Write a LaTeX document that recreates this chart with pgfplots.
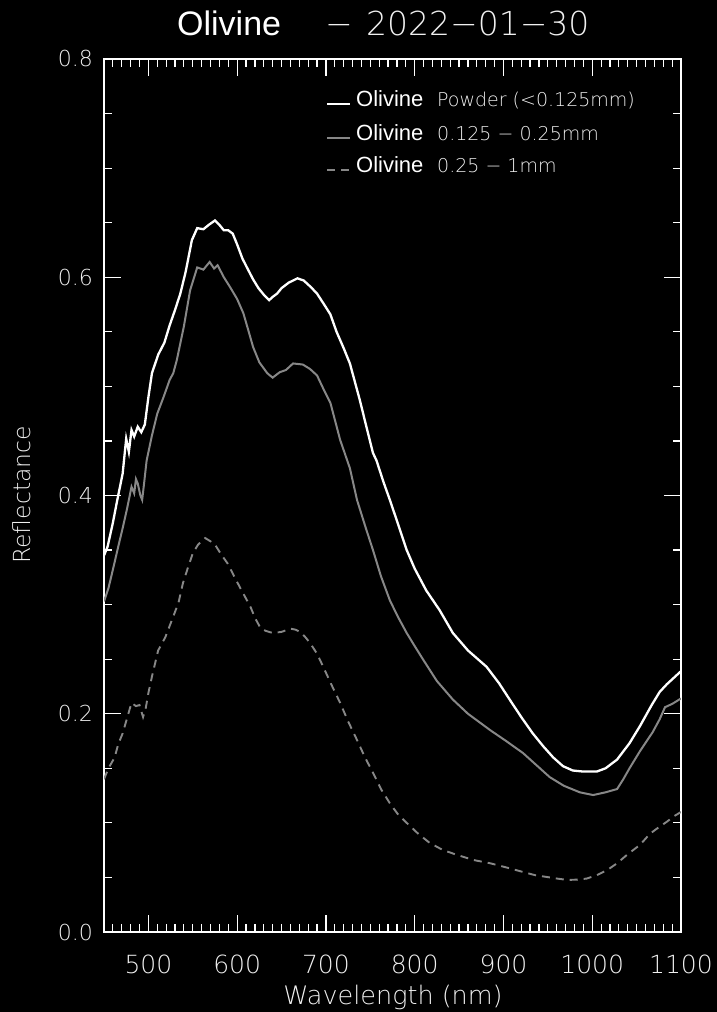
\documentclass[border=0pt]{standalone}
\usepackage{pgfplots}
\pgfplotsset{compat=1.18}
\usepackage{fontspec}
\setmainfont{Liberation Sans}
\newfontfamily\dv{DejaVu Sans ExtraLight}
\definecolor{gline}{RGB}{135,135,135}
\definecolor{htext}{RGB}{240,240,240}

\pgfplotstableread{
x y
450 0.345
454 0.353
460 0.375
465 0.396
471 0.420
475 0.452
478 0.440
481 0.460
484 0.454
488 0.463
492 0.458
496 0.465
500 0.490
504 0.512
511 0.529
518 0.540
524 0.556
530 0.570
536 0.585
542 0.605
549 0.634
555 0.645
562 0.644
568 0.648
575 0.652
580 0.648
585 0.643
590 0.643
595 0.640
600 0.630
606 0.617
611 0.609
618 0.598
624 0.590
630 0.584
636 0.579
640 0.582
645 0.585
650 0.590
658 0.595
668 0.599
675 0.597
683 0.591
690 0.585
698 0.575
705 0.566
712 0.550
720 0.535
727 0.521
738 0.488
745 0.465
753 0.439
757 0.432
765 0.412
772 0.396
782 0.372
791 0.350
800 0.333
813 0.313
828 0.295
843 0.274
860 0.258
881 0.243
895 0.228
907 0.213
920 0.197
933 0.182
945 0.170
956 0.160
967 0.152
978 0.148
990 0.147
1005 0.147
1015 0.150
1028 0.158
1042 0.173
1054 0.189
1067 0.208
1076 0.220
1084 0.227
1092 0.233
1100 0.239
}\powder

\pgfplotstableread{
x y
450 0.303
455 0.315
460 0.332
466 0.353
471 0.370
476 0.388
481 0.408
484 0.402
486 0.415
488 0.411
491 0.400
493 0.396
495 0.410
498 0.432
504 0.455
510 0.475
517 0.490
524 0.506
528 0.512
532 0.524
540 0.555
547 0.588
555 0.609
562 0.607
569 0.614
574 0.608
578 0.611
585 0.600
592 0.591
600 0.580
607 0.567
612 0.553
618 0.536
625 0.522
634 0.512
640 0.508
648 0.513
655 0.515
663 0.521
674 0.520
682 0.516
690 0.510
697 0.498
705 0.485
716 0.451
727 0.425
735 0.396
745 0.370
753 0.350
762 0.326
772 0.304
781 0.289
791 0.274
800 0.262
810 0.249
825 0.230
843 0.213
860 0.200
885 0.185
903 0.175
922 0.164
937 0.153
952 0.142
968 0.134
986 0.128
1001 0.1255
1015 0.128
1028 0.131
1035 0.140
1042 0.150
1054 0.166
1068 0.183
1076 0.195
1082 0.206
1090 0.209
1100 0.214
}\medium

\pgfplotstableread{
x y
450 0.140
455 0.150
462 0.160
466 0.172
471 0.182
476 0.196
481 0.210
486 0.207
490 0.208
494 0.197
497 0.205
500 0.219
504 0.234
511 0.258
519 0.270
528 0.289
534 0.302
539 0.320
545 0.335
550 0.347
556 0.355
564 0.361
570 0.358
575 0.355
582 0.346
589 0.338
596 0.327
603 0.316
609 0.307
615 0.298
620 0.288
626 0.279
632 0.276
640 0.274
650 0.275
660 0.278
666 0.277
671 0.275
677 0.270
682 0.265
690 0.255
697 0.243
706 0.227
716 0.210
725 0.193
735 0.176
744 0.160
753 0.146
762 0.131
772 0.118
781 0.108
791 0.100
804 0.090
817 0.0816
832 0.075
848 0.0706
866 0.066
885 0.063
904 0.059
922 0.055
936 0.052
949 0.0504
960 0.049
972 0.0477
983 0.048
994 0.049
1005 0.052
1017 0.0568
1028 0.063
1039 0.0706
1054 0.080
1065 0.090
1075 0.096
1084 0.101
1092 0.106
1100 0.110
}\coarse

\begin{document}
\begin{tikzpicture}
\useasboundingbox (0pt,0pt) rectangle (717pt,1012pt);
\fill[black] (0pt,0pt) rectangle (717pt,1012pt);
\begin{axis}[
  at={(104pt,80pt)}, anchor=south west,
  width=577pt, height=873pt, scale only axis,
  xmin=450, xmax=1100, ymin=0, ymax=0.8,
  axis background/.style={fill=black},
  axis line style={white, line width=1.4pt},
  every tick/.style={white, line width=1.2pt},
  tick align=inside,
  major tick length=17pt, minor tick length=8pt,
  xtick={500,600,700,800,900,1000,1100},
  minor xtick={450,460,470,480,490,510,520,530,540,550,560,570,580,590,610,620,630,640,650,660,670,680,690,710,720,730,740,750,760,770,780,790,810,820,830,840,850,860,870,880,890,910,920,930,940,950,960,970,980,990,1010,1020,1030,1040,1050,1060,1070,1080,1090},
  ytick={0,0.2,0.4,0.6,0.8},
  minor ytick={0.05,0.1,0.15,0.25,0.3,0.35,0.45,0.5,0.55,0.65,0.7,0.75},
  /pgf/number format/assume math mode=true,
  xticklabel style={font=\dv\fontsize{25}{25}\selectfont, text=htext, inner sep=0pt, yshift=-23pt, /pgf/number format/1000 sep={}},
  yticklabel style={font=\dv\fontsize{22}{22}\selectfont, text=htext, inner sep=0pt, xshift=-11pt},
  yticklabel={\pgfmathprintnumber[fixed,fixed zerofill,precision=1]{\tick}},
  clip=true,
]
\addplot[white, line width=2.3pt] table[x=x,y=y] {\powder};
\addplot[gline, line width=2pt] table[x=x,y=y] {\medium};
\addplot[gline, line width=1.9pt, dash pattern=on 8pt off 6pt] table[x=x,y=y] {\coarse};
\end{axis}

% title
\node[anchor=base west, inner sep=0pt, text=white, font=\fontsize{34}{34}\selectfont] at (177pt,976pt) {Olivine};
\node[anchor=base west, inner sep=0pt, text=htext, font=\dv\fontsize{33}{33}\selectfont] at (325pt,976pt) {−};
\node[anchor=base west, inner sep=0pt, text=htext, font=\dv\fontsize{33}{33}\selectfont] at (366pt,976pt) {2022−01−30};

% axis labels
\node[anchor=base, inner sep=0pt, text=htext, font=\dv\fontsize{25.5}{25.5}\selectfont] at (393pt,8pt) {Wavelength (nm)};
\node[anchor=base, rotate=90, inner sep=0pt, text=htext, font=\dv\fontsize{23.5}{23.5}\selectfont] at (31pt,517pt) {Reflectance};

% legend
\draw[white, line width=2.3pt] (327pt,908pt) -- (350pt,908pt);
\draw[gline, line width=2pt] (327pt,874pt) -- (350pt,874pt);
\draw[gline, line width=1.9pt, dash pattern=on 8pt off 6pt] (327pt,842pt) -- (350pt,842pt);
\node[anchor=base west, inner sep=0pt, text=white, font=\fontsize{22}{22}\selectfont] at (356pt,905pt) {Olivine};
\node[anchor=base west, inner sep=0pt, text=white, font=\fontsize{22}{22}\selectfont] at (356pt,871pt) {Olivine};
\node[anchor=base west, inner sep=0pt, text=white, font=\fontsize{22}{22}\selectfont] at (356pt,839pt) {Olivine};
\node[anchor=base west, inner sep=0pt, text=htext, font=\dv\fontsize{19}{19}\selectfont] at (437pt,905pt) {Powder (<0.125mm)};
\node[anchor=base west, inner sep=0pt, text=htext, font=\dv\fontsize{19}{19}\selectfont] at (437pt,871pt) {0.125 − 0.25mm};
\node[anchor=base west, inner sep=0pt, text=htext, font=\dv\fontsize{19}{19}\selectfont] at (437pt,839pt) {0.25 − 1mm};
\end{tikzpicture}
\end{document}
